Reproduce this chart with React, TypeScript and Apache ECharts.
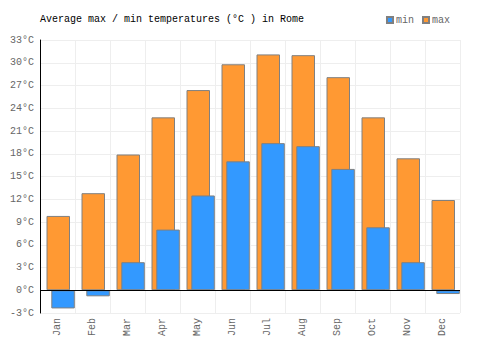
import React, { useEffect, useRef } from "react";
import * as echarts from "echarts";

const months = ["Jan", "Feb", "Mar", "Apr", "May", "Jun", "Jul", "Aug", "Sep", "Oct", "Nov", "Dec"];
const maxTemps = [9.8, 12.8, 17.9, 22.8, 26.4, 29.8, 31.1, 31.0, 28.1, 22.8, 17.4, 11.9];
const minTemps = [-2.4, -0.8, 3.7, 8.0, 12.5, 17.0, 19.4, 19.0, 16.0, 8.3, 3.7, -0.5];
const FONT = "Liberation Mono";

export default function App() {
  const ref = useRef<HTMLDivElement>(null);
  useEffect(() => {
    if (!ref.current) return;
    const chart = echarts.init(ref.current, null, { renderer: "svg" });
    chart.setOption({
      animation: false,
      textStyle: { fontFamily: FONT },
      title: {
        text: "Average max / min temperatures (°C ) in Rome",
        left: 35,
        top: 9,
        textStyle: { fontFamily: FONT, fontSize: 10, fontWeight: "normal", color: "#000" },
      },
      legend: {
        data: ["min", "max"],
        right: 45,
        top: 10,
        itemWidth: 6,
        itemHeight: 6,
        itemGap: 8,
        icon: "rect",
        textStyle: { fontFamily: FONT, fontSize: 10, color: "#666", padding: [0, 0, 0, -2] },
      },
      grid: { left: 40, right: 40, top: 40, bottom: 37 },
      xAxis: {
        type: "category",
        data: months,
        axisLine: { show: false },
        axisTick: { show: false },
        splitLine: { show: true, lineStyle: { color: "#eeeeee" } },
        axisLabel: { rotate: 90, color: "#666", fontFamily: FONT, fontSize: 10, margin: 5 },
      },
      yAxis: {
        type: "value",
        min: -3,
        max: 33,
        interval: 3,
        axisLine: { show: true, lineStyle: { color: "#000" } },
        axisTick: { show: false },
        splitLine: { lineStyle: { color: "#eeeeee" } },
        axisLabel: { formatter: "{value}°C", color: "#666", fontFamily: FONT, fontSize: 10, margin: 6 },
      },
      series: [
        {
          name: "max",
          type: "bar",
          data: maxTemps,
          barWidth: 23.5,
          barGap: "-79.6%",
          itemStyle: { color: "#ff9933", borderColor: "#808080", borderWidth: 1 },
          markLine: {
            silent: true,
            symbol: "none",
            label: { show: false },
            lineStyle: { color: "#000", type: "solid", width: 1 },
            data: [{ yAxis: 0 }],
            z: 10,
          },
        },
        {
          name: "min",
          type: "bar",
          data: minTemps,
          barWidth: 23.5,
          barGap: "-79.6%",
          itemStyle: { color: "#3399ff", borderColor: "#808080", borderWidth: 1 },
        },
        {
          name: "spacer",
          type: "bar",
          data: months.map(() => 0),
          barWidth: 12.4,
          barGap: "-79.6%",
          silent: true,
          itemStyle: { color: "transparent", borderWidth: 0 },
        },
      ],
    });
    return () => chart.dispose();
  }, []);
  return (
    <div
      ref={ref}
      style={{ position: "absolute", left: 0, top: 0, width: 500, height: 350 }}
    />
  );
}
